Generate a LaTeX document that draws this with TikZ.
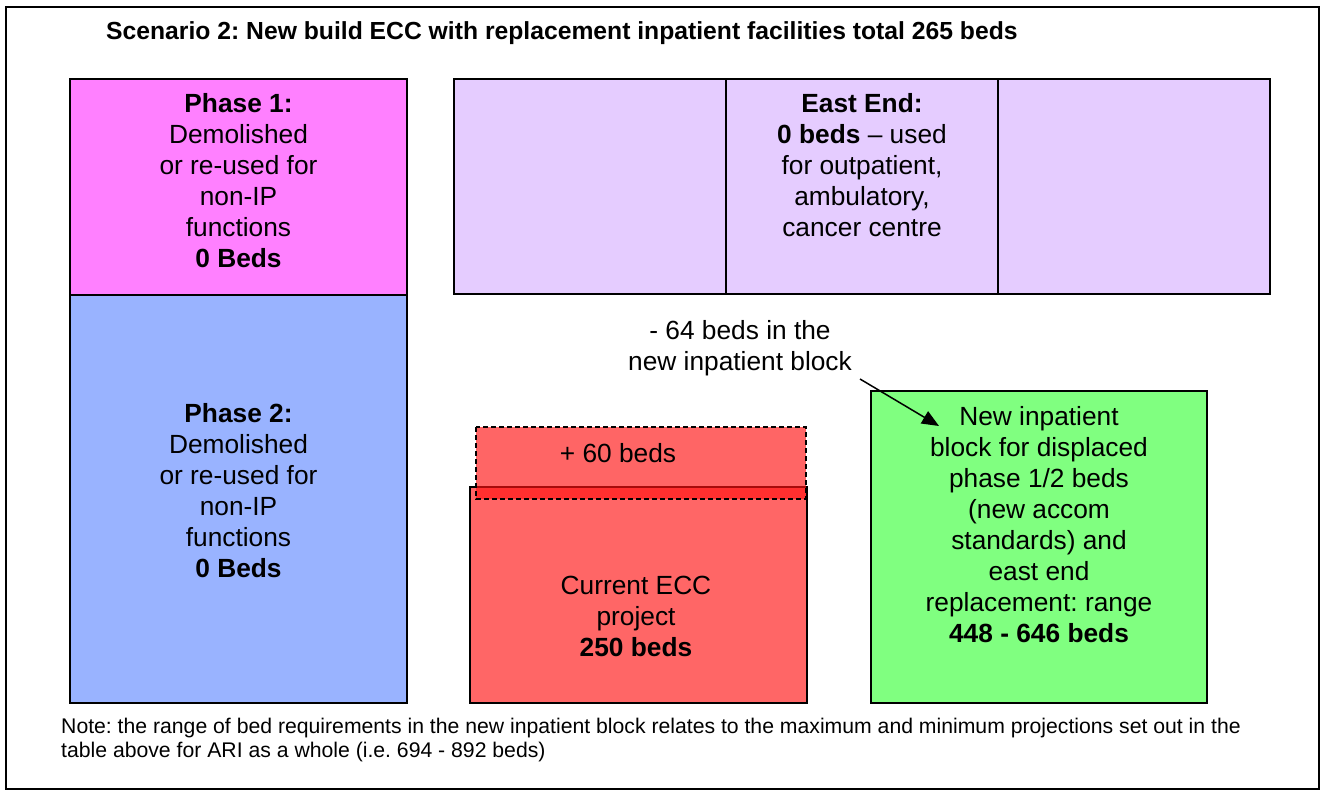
\documentclass[tikz,border=0pt]{standalone}
\usepackage{fontspec}
\setmainfont{Liberation Sans}
\usetikzlibrary{arrows.meta}
\definecolor{phaseone}{HTML}{FF80FF}
\definecolor{phasetwo}{HTML}{99B3FF}
\definecolor{eastend}{HTML}{E5CCFF}
\definecolor{eccred}{HTML}{FF6666}
\definecolor{newblock}{HTML}{80FF80}
\definecolor{extrared}{HTML}{FF1212}
\frenchspacing

\begin{document}
\begin{tikzpicture}[x=1pt,y=-1pt,
  block/.style={draw=black, line width=2pt, anchor=north west, inner sep=0pt, outer sep=0pt},
  boxtext/.style={inner sep=0pt, align=center, font=\fontsize{26.3}{31}\selectfont},
  smalltext/.style={inner sep=0pt, align=left, font=\fontsize{21.2}{24}\selectfont}]
\useasboundingbox (0,0) rectangle (1322,791);

% outer frame
\node[draw=black, line width=1.8pt, anchor=north west, inner sep=0pt,
      minimum width=1313pt, minimum height=782pt] (frame) at (5,6) {};

% title
\node[anchor=base west, inner sep=0pt, font=\bfseries\fontsize{24.7}{28}\selectfont] (title)
  at (106,39.5) {Scenario 2: New build ECC with replacement inpatient facilities total 265 beds};

% existing phases on the left
\node[block, fill=phaseone, minimum width=337pt, minimum height=216pt] (phase1) at (70,79) {};
\node[block, fill=phasetwo, minimum width=337pt, minimum height=408pt] (phase2) at (70,295) {};
\node[boxtext] (phase1txt) at (238.5,181)
  {\textbf{Phase 1:}\\Demolished\\or re-used for\\non-IP\\functions\\\textbf{0 Beds}};
\node[boxtext] (phase2txt) at (238.5,491)
  {\textbf{Phase 2:}\\Demolished\\or re-used for\\non-IP\\functions\\\textbf{0 Beds}};

% east end, three bays
\node[block, fill=eastend, minimum width=272pt, minimum height=215pt] (eastL) at (454,79) {};
\node[block, fill=eastend, minimum width=272pt, minimum height=215pt] (eastM) at (726,79) {};
\node[block, fill=eastend, minimum width=272pt, minimum height=215pt] (eastR) at (998,79) {};
\node[boxtext] (easttxt) at (862,165)
  {\textbf{East End:}\\\textbf{0 beds} -- used\\for outpatient,\\ambulatory,\\cancer centre};

% current ECC project with the extra 60 beds on top
\node[block, fill=eccred, minimum width=337pt, minimum height=216pt] (ecc) at (470,487) {};
\node[block, draw=none, fill=extrared, fill opacity=0.65, minimum width=330pt, minimum height=72pt] (extra) at (476,427) {};
\draw[line width=1.5pt, dash pattern=on 5pt off 3pt] (extra.north west) rectangle (extra.south east);
\node[boxtext] (extratxt) at (618,453) {+ 60 beds};
\node[boxtext] (ecctxt) at (636,616) {Current ECC\\project\\\textbf{250 beds}};

% new inpatient block
\node[block, fill=newblock, minimum width=336pt, minimum height=312pt] (newblk) at (871,391) {};
\node[boxtext] (newtxt) at (1039,524.5)
  {New inpatient\\block for displaced\\phase 1/2 beds\\(new accom\\standards) and\\east end\\replacement: range\\\textbf{448 - 646 beds}};

% callout
\node[boxtext] (callout) at (740,348) {- 64 beds in the\\new inpatient block};
\coordinate (calloutfoot) at (860,379);
\coordinate (calloutpoint) at (939,426);
\draw[line width=1.5pt, -{Triangle[length=17pt,width=14pt]}] (calloutfoot) -- (calloutpoint);

% footnote
\node[smalltext, anchor=north west] (note) at (61,718)
  {Note: the range of bed requirements in the new inpatient block relates to the maximum and minimum projections set out in the\\
   table above for ARI as a whole (i.e. 694 - 892 beds)};
\end{tikzpicture}
\end{document}
